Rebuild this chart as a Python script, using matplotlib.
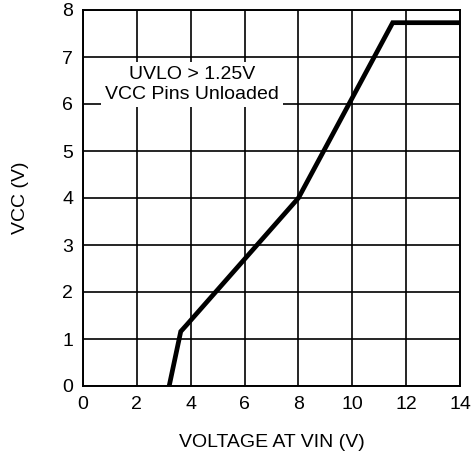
import matplotlib
matplotlib.use("Agg")
import matplotlib.pyplot as plt

plt.rcParams['font.family'] = ['Liberation Sans', 'DejaVu Sans']

# VCC vs VIN curve
vin = [3.2, 3.63, 3.85, 8.0, 11.5, 14.0]
vcc = [0.0, 1.16, 1.3, 4.0, 7.73, 7.73]

xticks = [0, 2, 4, 6, 8, 10, 12, 14]
yticks = [0, 1, 2, 3, 4, 5, 6, 7, 8]

fig = plt.figure(figsize=(4.72, 4.54), dpi=100)
ax = fig.add_axes([83/472, 68/454, 377/472, 376/454])

ax.set_xlim(0, 14)
ax.set_ylim(0, 8)
ax.set_xticks(xticks)
ax.set_yticks(yticks)
ax.grid(True, color='black', linewidth=1.2)
ax.tick_params(length=0, labelsize=14, pad=7)
for s in ax.spines.values():
    s.set_linewidth(1.4)

ax.plot(vin, vcc, color='black', linewidth=3.4, solid_joinstyle='miter', zorder=4)

ax.text(4.05, 6.42, "UVLO > 1.25V\nVCC Pins Unloaded", ha='center', va='center',
        fontsize=14, linespacing=1.2,
        bbox=dict(facecolor='white', edgecolor='none', pad=3), zorder=3)

ax.set_xlabel("VOLTAGE AT VIN (V)", fontsize=14, labelpad=15)
ax.set_ylabel("VCC (V)", fontsize=14, labelpad=24)

fig.savefig("out.png", dpi=100)
